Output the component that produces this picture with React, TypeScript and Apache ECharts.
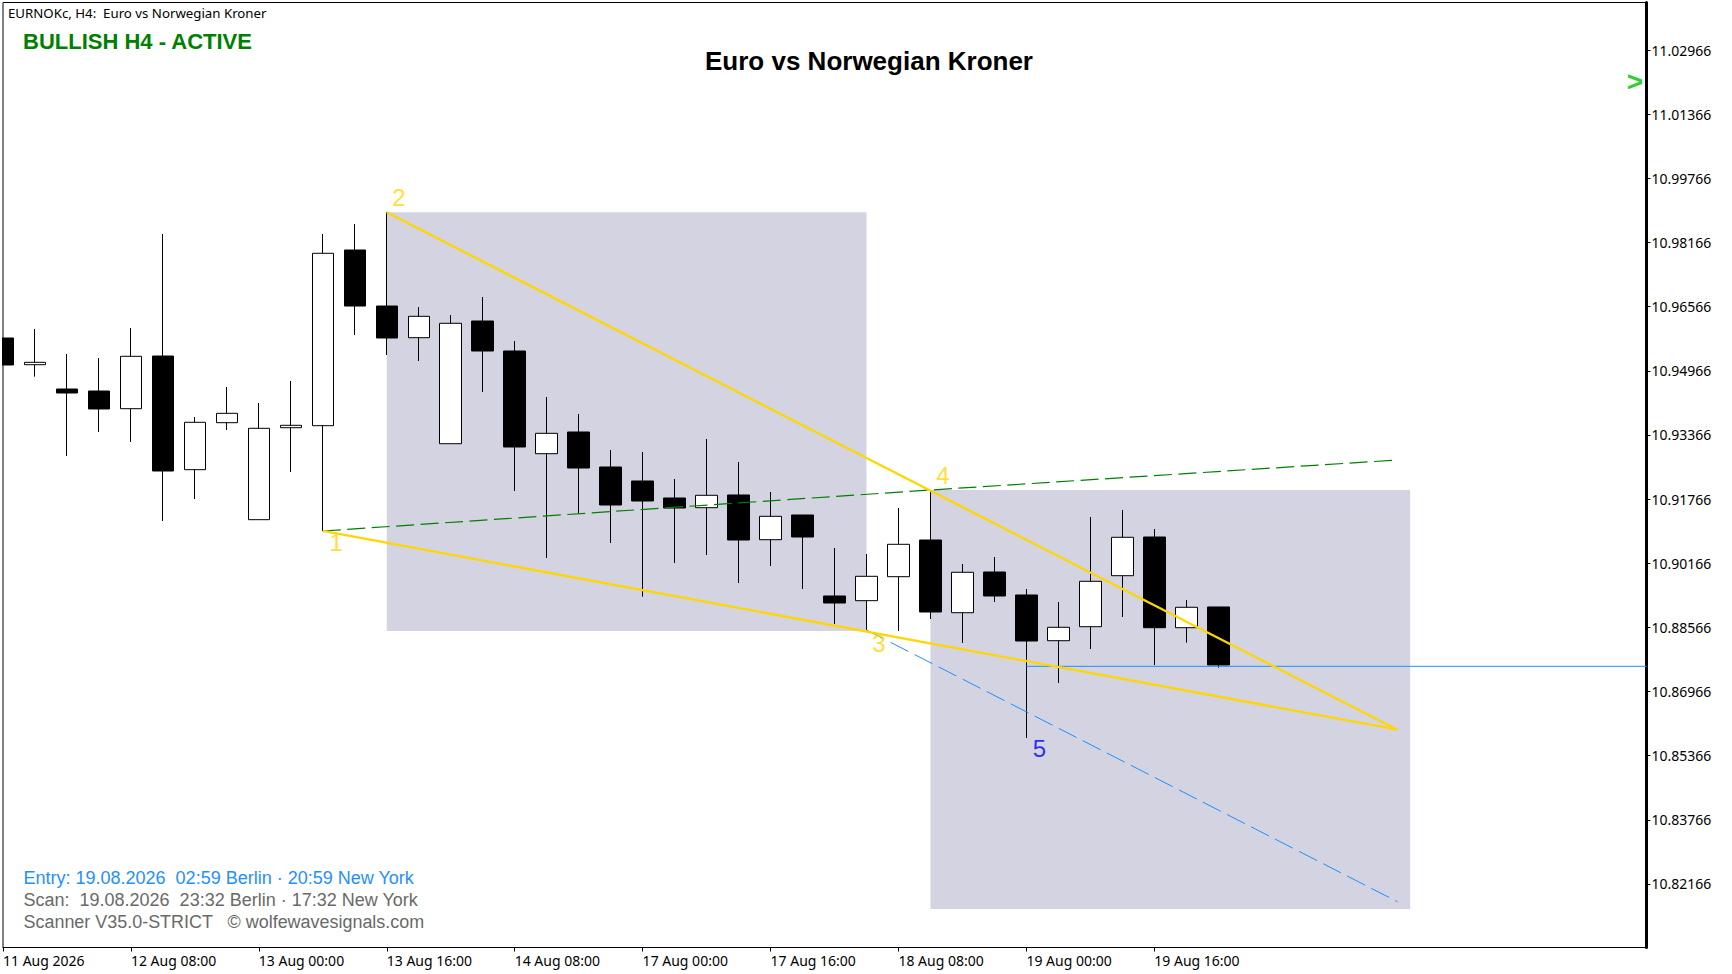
import React, { useEffect, useRef } from 'react';
import * as echarts from 'echarts';

// H4 bars, one entry per candle
const opens = [10.95783, 10.95117, 10.94511, 10.94461, 10.94020, 10.95334, 10.92499, 10.93671, 10.91252, 10.93546, 10.93596, 10.97978, 10.96581, 10.95791, 10.93147, 10.96207, 10.95459, 10.92898, 10.93439, 10.92566, 10.92217, 10.91793, 10.91551, 10.91868, 10.90753, 10.91369, 10.89349, 10.89232, 10.89830, 10.90745, 10.88932, 10.89947, 10.89374, 10.88234, 10.88583, 10.89855, 10.90820, 10.88558, 10.89075];
const closes = [10.95110, 10.95177, 10.94412, 10.94013, 10.95327, 10.92466, 10.93681, 10.93905, 10.93531, 10.93606, 10.97896, 10.96581, 10.95783, 10.96324, 10.96150, 10.95459, 10.93065, 10.93406, 10.92541, 10.91618, 10.91718, 10.91543, 10.91860, 10.90745, 10.91336, 10.90820, 10.89174, 10.89840, 10.90638, 10.88950, 10.89940, 10.89349, 10.88226, 10.88568, 10.89715, 10.90813, 10.88558, 10.89067, 10.87628];
const lows = [10.95110, 10.94818, 10.92840, 10.93439, 10.93190, 10.91219, 10.91768, 10.93489, 10.91252, 10.92441, 10.90970, 10.95858, 10.95359, 10.95210, 10.93147, 10.94437, 10.91967, 10.90296, 10.91411, 10.90671, 10.89331, 10.90172, 10.90371, 10.89673, 10.90097, 10.89523, 10.88650, 10.88501, 10.88476, 10.88775, 10.88177, 10.89199, 10.85807, 10.87179, 10.88027, 10.88825, 10.87628, 10.88184, 10.87561];
const highs = [10.95783, 10.96008, 10.95384, 10.95284, 10.96033, 10.98377, 10.93813, 10.94561, 10.94162, 10.94711, 10.98377, 10.98626, 10.98918, 10.96556, 10.96357, 10.96806, 10.95708, 10.94312, 10.93888, 10.92990, 10.92940, 10.92267, 10.93264, 10.92691, 10.91943, 10.91369, 10.90546, 10.90396, 10.91543, 10.91992, 10.90147, 10.90321, 10.89523, 10.89199, 10.91319, 10.91494, 10.91020, 10.89249, 10.89075];

const xTickIndexes = [0, 4, 8, 12, 16, 20, 24, 28, 32, 36];
const xTickLabels = ['11 Aug 2026', '12 Aug 08:00', '13 Aug 00:00', '13 Aug 16:00', '14 Aug 08:00', '17 Aug 00:00', '17 Aug 16:00', '18 Aug 08:00', '19 Aug 00:00', '19 Aug 16:00'];
const yTicks = [11.02966, 11.01366, 10.99766, 10.98166, 10.96566, 10.94966, 10.93366, 10.91766, 10.90166, 10.88566, 10.86966, 10.85366, 10.83766, 10.82166];

const xMax = 51.39;
const yMin = 10.80582;
const yMax = 11.04151;

// wolfe wave pivots and projections, [bar, price]
const lineTop = [[12, 10.98918], [43.6, 10.86014]];
const lineBottom = [[10, 10.9097], [43.6, 10.86014]];
const lineOneFour = [[10, 10.9097], [29, 10.91992], [43.6, 10.92741]];
const lineTarget = [[27, 10.88501], [43.6, 10.81725]];
const lineCurrent = [[32, 10.87595], [xMax, 10.87595]];

// [bar from, price top, bar to, price bottom]
const boxes = [
  [12, 10.98918, 27, 10.88476],
  [29, 10.91992, 44, 10.81543],
];

const pivotLabels = [
  { text: '1', bar: 10.42, price: 10.90671, color: '#FFD700' },
  { text: '2', bar: 12.38, price: 10.993, color: '#FFD700' },
  { text: '3', bar: 27.39, price: 10.88152, color: '#FFD700' },
  { text: '4', bar: 29.39, price: 10.92342, color: '#FFD700' },
  { text: '5', bar: 32.41, price: 10.85533, color: '#0000FF' },
];

const TAHOMA_LIKE = '"Noto Sans"';
const ARIAL_LIKE = '"Liberation Sans"';

const App = () => {
  const chartRef = useRef<HTMLDivElement>(null);

  useEffect(() => {
    const chart = echarts.init(chartRef.current, null, { renderer: 'svg' });

    const candleData = opens.map((o, i) => [i, o, closes[i], lows[i], highs[i]]);

    chart.setOption({
      animation: false,
      backgroundColor: '#fff',
      grid: {
        show: true, left: 2, top: 2.5, right: 85.5, bottom: 26.5,
        borderColor: '#000', borderWidth: 1, backgroundColor: '#fff',
      },
      xAxis: {
        type: 'value', min: 0, max: xMax, splitLine: { show: false },
        axisLine: { lineStyle: { color: '#000', width: 1 } },
        axisTick: { length: 4, lineStyle: { color: '#000' }, customValues: xTickIndexes },
        axisLabel: {
          customValues: xTickIndexes,
          formatter: (v: number) => xTickLabels[xTickIndexes.indexOf(v)] ?? '',
          align: 'left', margin: 6, color: '#000', fontFamily: TAHOMA_LIKE, fontSize: 14,
        },
      },
      yAxis: {
        type: 'value', position: 'right', min: yMin, max: yMax, scale: true, splitLine: { show: false },
        axisLine: { show: true, onZero: false, lineStyle: { color: '#000', width: 3 } },
        axisTick: { show: true, length: 4, lineStyle: { color: '#000' }, customValues: yTicks },
        axisLabel: {
          customValues: yTicks,
          formatter: (v: number) => v.toFixed(5),
          margin: 5, color: '#000', fontFamily: TAHOMA_LIKE, fontSize: 14,
        },
      },
      series: [
        {
          type: 'custom', z: 1, silent: true,
          data: boxes,
          encode: { x: [0, 2], y: [1, 3] },
          renderItem: (_params: any, api: any) => {
            const a = api.coord([api.value(0), api.value(1)]);
            const b = api.coord([api.value(2), api.value(3)]);
            return {
              type: 'rect',
              shape: { x: a[0], y: a[1], width: b[0] - a[0], height: b[1] - a[1] },
              style: { fill: '#D3D3E1' },
            };
          },
        },
        {
          type: 'candlestick', z: 2, barWidth: 22, silent: true,
          encode: { x: 0, y: [1, 2, 3, 4] },
          data: candleData,
          itemStyle: { color: '#fff', color0: '#000', borderColor: '#000', borderColor0: '#000', borderWidth: 1 },
        },
        { type: 'line', z: 3, symbol: 'none', data: lineOneFour, lineStyle: { color: '#008000', width: 1.2, type: [18, 6.5] } },
        { type: 'line', z: 3, symbol: 'none', data: lineTarget, lineStyle: { color: '#1E90FF', width: 1, type: [20, 7] } },
        { type: 'line', z: 3, symbol: 'none', data: lineCurrent, lineStyle: { color: '#1E90FF', width: 1 } },
        { type: 'line', z: 4, symbol: 'none', data: lineTop, lineStyle: { color: '#FFD700', width: 2.3 } },
        { type: 'line', z: 4, symbol: 'none', data: lineBottom, lineStyle: { color: '#FFD700', width: 2.3 } },
        {
          type: 'scatter', z: 5, symbolSize: 0, silent: true,
          data: pivotLabels.map((p) => ({
            value: [p.bar, p.price],
            label: { show: true, position: 'inside', formatter: p.text, color: p.color, fontFamily: ARIAL_LIKE, fontSize: 24 },
          })),
        },
      ],
      graphic: [
        // first candle is cut by the chart's left edge
        { type: 'rect', z: 100, shape: { x: 0, y: 0, width: 2, height: 974 }, style: { fill: '#fff' } },
        { type: 'text', x: 8, y: 13, style: { text: 'EURNOKc, H4:  Euro vs Norwegian Kroner', fill: '#000', font: `13.25px ${TAHOMA_LIKE}`, textVerticalAlign: 'middle' } },
        { type: 'text', x: 23, y: 41, style: { text: 'BULLISH H4 - ACTIVE', fill: '#008000', font: `bold 22px ${ARIAL_LIKE}`, textVerticalAlign: 'middle' } },
        { type: 'text', x: 869, y: 61, style: { text: 'Euro vs Norwegian Kroner', fill: '#000', font: `bold 26px ${ARIAL_LIKE}`, textAlign: 'center', textVerticalAlign: 'middle' } },
        { type: 'text', x: 1635, y: 81, style: { text: '>', fill: '#32CD32', font: `bold 28px ${ARIAL_LIKE}`, textAlign: 'center', textVerticalAlign: 'middle' } },
        { type: 'text', x: 23.5, y: 878, style: { text: 'Entry: 19.08.2026  02:59 Berlin · 20:59 New York', fill: '#1E90FF', font: `18px ${ARIAL_LIKE}`, textVerticalAlign: 'middle' } },
        { type: 'text', x: 23.5, y: 900, style: { text: 'Scan:  19.08.2026  23:32 Berlin · 17:32 New York', fill: '#696969', font: `18px ${ARIAL_LIKE}`, textVerticalAlign: 'middle' } },
        { type: 'text', x: 23.5, y: 922, style: { text: 'Scanner V35.0-STRICT   © wolfewavesignals.com', fill: '#696969', font: `17.95px ${ARIAL_LIKE}`, textVerticalAlign: 'middle' } },
      ],
    });

    return () => chart.dispose();
  }, []);

  return <div ref={chartRef} style={{ position: 'absolute', left: 0, top: 0, width: 1732, height: 974 }} />;
};

export default App;
